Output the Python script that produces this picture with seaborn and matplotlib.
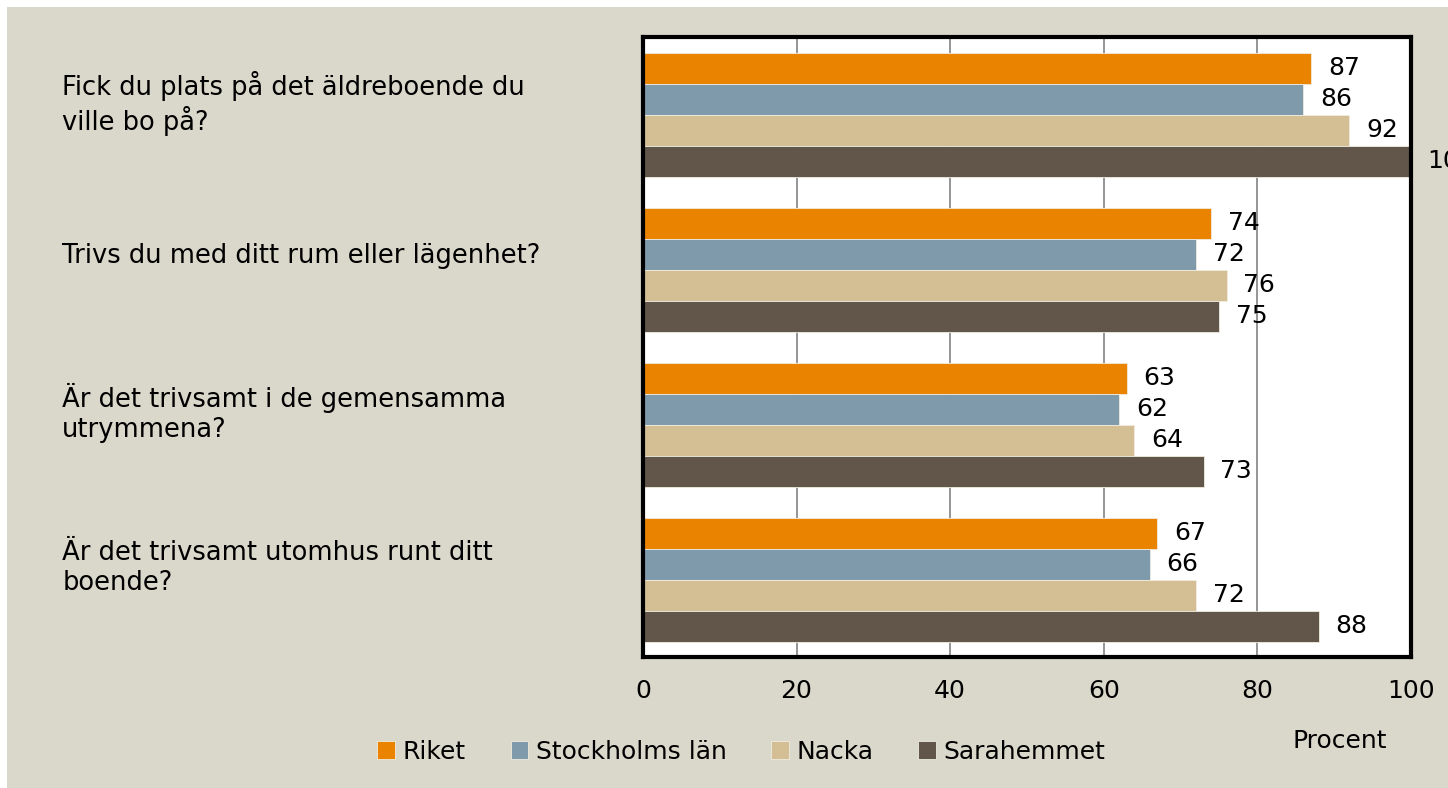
import pandas as pd
import matplotlib
matplotlib.use("Agg")
import matplotlib.pyplot as plt
import matplotlib.transforms as mtransforms
import seaborn as sns
from matplotlib.patches import Rectangle

# Survey answers, percent positive, per question and area
questions = [
    "Fick du plats på det äldreboende du\nville bo på?",
    "Trivs du med ditt rum eller lägenhet?",
    "Är det trivsamt i de gemensamma\nutrymmena?",
    "Är det trivsamt utomhus runt ditt\nboende?",
]
areas = ["Riket", "Stockholms län", "Nacka", "Sarahemmet"]
riket = [87, 74, 63, 67]
stockholm = [86, 72, 62, 66]
nacka = [92, 76, 64, 72]
sarahemmet = [100, 75, 73, 88]
colors = ["#E98300", "#7E9AAB", "#D4BF95", "#62554A"]

rows = []
for area, vals in zip(areas, [riket, stockholm, nacka, sarahemmet]):
    for q, v in zip(questions, vals):
        rows.append({"fraga": q, "omrade": area, "procent": v})
df = pd.DataFrame(rows)

bg = "#DAD8CB"
sns.set_theme(style="white")
plt.rcParams["font.family"] = ["DejaVu Sans"]
plt.rcParams["text.color"] = "black"
plt.rcParams["xtick.color"] = "black"
plt.rcParams["ytick.color"] = "black"

fig = plt.figure(figsize=(14.48, 7.88), dpi=100, facecolor="white")
fig.patches.append(Rectangle((0.005, 0.0), 0.995, 0.991, transform=fig.transFigure,
                             facecolor=bg, edgecolor="none", zorder=-10))
ax = fig.add_axes([0.444, 0.166, 0.5304, 0.787])

sns.barplot(data=df, y="fraga", x="procent", hue="omrade", order=questions,
            hue_order=areas, palette=colors, orient="h", width=0.8,
            saturation=1, ax=ax, legend=True, linewidth=0.6, edgecolor="#f0ece0")

for cont in ax.containers:
    ax.bar_label(cont, padding=12, fontsize=18, color="black")

ax.set_xlim(0, 100)
ax.set_xticks([0, 20, 40, 60, 80, 100])
ax.xaxis.grid(True, color="#8c8c8c", linewidth=1.3)
ax.set_axisbelow(True)
for s in ax.spines.values():
    s.set_color("black")
    s.set_linewidth(3)
ax.tick_params(axis="x", labelsize=18, pad=16, length=0)
ax.tick_params(axis="y", labelsize=18.5, pad=418, length=0)
# labels sit a bit above the group centres in the original
shift = mtransforms.ScaledTranslation(0, 12 / 72, fig.dpi_scale_trans)
for lab in ax.get_yticklabels():
    lab.set_horizontalalignment("left")
    lab.set_transform(lab.get_transform() + shift)
ax.set_ylabel("")
ax.set_xlabel("")
fig.text(0.925, 0.06, "Procent", fontsize=18, ha="center", va="center")

handles, labels = ax.get_legend_handles_labels()
ax.legend_.remove()
fig.legend(handles, labels, loc="center", bbox_to_anchor=(0.512, 0.046), ncol=4,
           frameon=False, fontsize=18, handlelength=0.7, handleheight=0.7,
           handletextpad=0.3, columnspacing=1.8)

fig.savefig("out.png", dpi=100, facecolor="white")
